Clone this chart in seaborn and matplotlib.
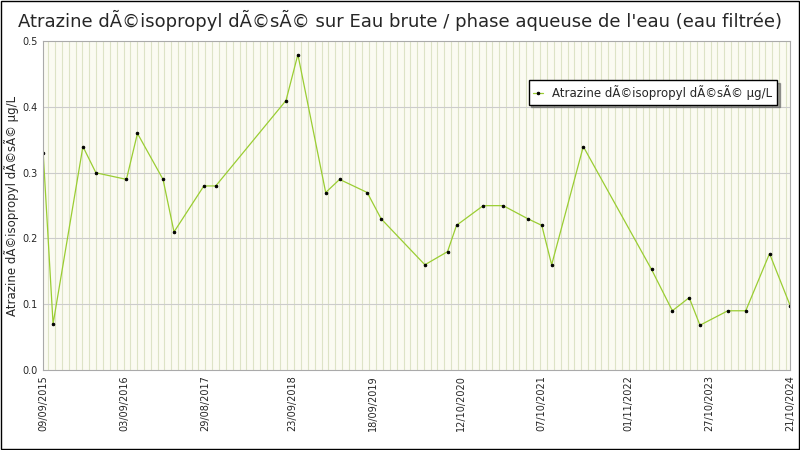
import numpy as np
import pandas as pd
import matplotlib
matplotlib.use("Agg")
import matplotlib.pyplot as plt
import matplotlib.dates as mdates
import seaborn as sns

# ---- données ----
dates = ["2015-09-09", "2015-10-23", "2016-03-04", "2016-05-01", "2016-09-14",
         "2016-11-02", "2017-02-24", "2017-04-14", "2017-08-25", "2017-10-17",
         "2018-08-26", "2018-10-18", "2019-02-19", "2019-04-22", "2019-08-23",
         "2019-10-24", "2020-05-06", "2020-08-15", "2020-09-24", "2021-01-21",
         "2021-04-20", "2021-08-08", "2021-10-09", "2021-11-22", "2022-04-12",
         "2023-02-10", "2023-05-14", "2023-07-28", "2023-09-14", "2024-01-16",
         "2024-04-05", "2024-07-20", "2024-10-21"]
values = [0.33, 0.07, 0.34, 0.30, 0.29, 0.36, 0.29, 0.21, 0.28, 0.28,
          0.41, 0.48, 0.27, 0.29, 0.27, 0.23, 0.16, 0.18, 0.22, 0.25,
          0.25, 0.23, 0.22, 0.16, 0.34, 0.153, 0.09, 0.11, 0.068, 0.09,
          0.09, 0.177, 0.097]
tick_dates = ["2015-09-09", "2016-09-03", "2017-08-29", "2018-09-23", "2019-09-18",
              "2020-10-12", "2021-10-07", "2022-11-01", "2023-10-27", "2024-10-21"]

title = "Atrazine dÃ©isopropyl dÃ©sÃ© sur Eau brute / phase aqueuse de l'eau (eau filtrée)"
label = "Atrazine dÃ©isopropyl dÃ©sÃ© µg/L"

df = pd.DataFrame({"date": pd.to_datetime(dates), "val": values})

sns.set_style("white")
plt.rcParams["font.family"] = ["DejaVu Sans"]

fig, ax = plt.subplots(figsize=(8, 4.5), dpi=100)
fig.subplots_adjust(left=0.054, right=0.988, top=0.908, bottom=0.178)
ax.set_facecolor("#fbfbf2")

# grille verticale mensuelle
for d in pd.date_range("2015-09-01", "2024-11-01", freq="MS"):
    ax.axvline(d, color="#dde3c6", lw=0.8, zorder=0)
for y in np.arange(0.1, 0.5, 0.1):
    ax.axhline(y, color="#cccccc", lw=0.8, zorder=0)

sns.lineplot(data=df, x="date", y="val", ax=ax, color="#9acd32", lw=0.9,
             marker="o", markersize=1.8, markerfacecolor="black",
             markeredgecolor="black", label=label)

ax.set_xlim(pd.Timestamp("2015-09-09"), pd.Timestamp("2024-10-21"))
ax.set_ylim(0, 0.5)
ax.set_xticks(pd.to_datetime(tick_dates))
ax.xaxis.set_major_formatter(mdates.DateFormatter("%d/%m/%Y"))
plt.setp(ax.get_xticklabels(), rotation=90, fontsize=7)
ax.set_yticks(np.arange(0, 0.51, 0.1))
ax.set_yticklabels(["0.0", "0.1", "0.2", "0.3", "0.4", "0.5"], fontsize=7)
ax.tick_params(axis="both", length=2, pad=2)
ax.set_xlabel("")
ax.set_ylabel(label, fontsize=8.5, labelpad=2)
for s in ax.spines.values():
    s.set_color("#aaaaaa")
    s.set_linewidth(0.8)

leg = ax.legend(loc="upper right", bbox_to_anchor=(0.99, 0.9), fontsize=8.5,
                frameon=True, fancybox=False, shadow=True, handlelength=0.8)
leg.get_frame().set_edgecolor("black")

fig.text(0.5, 0.955, title, ha="center", va="center", fontsize=13)
fig.patches.append(plt.Rectangle((0.0015, 0.002), 0.997, 0.996, transform=fig.transFigure,
                                 fill=False, edgecolor="black", lw=1))

plt.savefig("out.png", dpi=100)
